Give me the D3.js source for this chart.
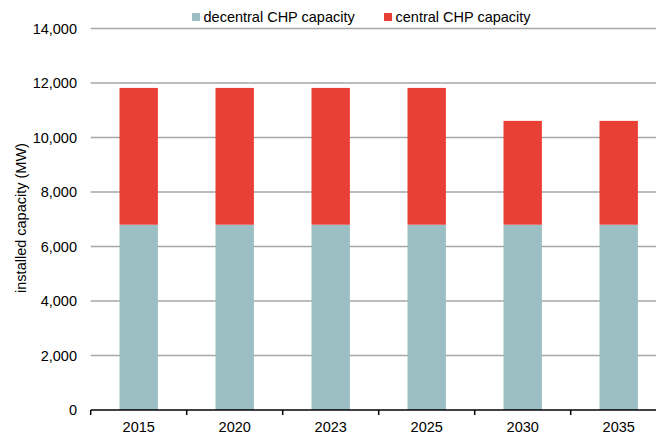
<!DOCTYPE html>
<html>
<head>
<meta charset="utf-8">
<script src="https://cdn.jsdelivr.net/npm/d3@7"></script>
<style>
  body { margin: 0; background: #fff; }
  text { font-family: "Liberation Sans", Arial, sans-serif; }
</style>
</head>
<body>
<div id="chart"></div>
<script>
// data
var years = ["2015", "2020", "2023", "2025", "2030", "2035"];
var decentral = [6800, 6800, 6800, 6800, 6800, 6800];
var central = [5020, 5020, 5020, 5020, 3810, 3810];
var seriesNames = ["decentral CHP capacity", "central CHP capacity"];
var seriesColors = ["#9bbfc2", "#e84035"];
var yTicks = [0, 2000, 4000, 6000, 8000, 10000, 12000, 14000];

var width = 656, height = 436;
var margin = {left: 90.7, right: -10.7, top: 28.5, bottom: 26};
var fontSize = 14.5;

var svg = d3.select("#chart").append("svg")
    .attr("width", width)
    .attr("height", height);

var x = d3.scaleBand()
    .domain(years)
    .range([margin.left, width - margin.right])
    .paddingInner(0.6)
    .paddingOuter(0.3);

var y = d3.scaleLinear()
    .domain([0, 14000])
    .range([height - margin.bottom, margin.top]);

// gridlines
svg.append("g")
    .selectAll("line")
    .data(yTicks.slice(1))
    .join("line")
    .attr("x1", margin.left)
    .attr("x2", width)
    .attr("y1", function (d) { return y(d); })
    .attr("y2", function (d) { return y(d); })
    .attr("stroke", "#a6a6a6")
    .attr("stroke-width", 1.5);

// y labels
svg.append("g")
    .selectAll("text")
    .data(yTicks)
    .join("text")
    .attr("x", 77)
    .attr("y", function (d) { return y(d); })
    .attr("dy", "0.35em")
    .attr("text-anchor", "end")
    .attr("font-size", fontSize)
    .attr("fill", "#000")
    .text(function (d) { return d3.format(",")(d); });

// stacked bars
var rows = years.map(function (yr, i) {
    return {year: yr, decentral: decentral[i], central: central[i]};
});
var stack = d3.stack().keys(["decentral", "central"])(rows);

svg.append("g")
    .selectAll("g")
    .data(stack)
    .join("g")
    .attr("fill", function (d, i) { return seriesColors[i]; })
    .selectAll("rect")
    .data(function (d) { return d; })
    .join("rect")
    .attr("x", function (d) { return x(d.data.year); })
    .attr("width", x.bandwidth())
    .attr("y", function (d) { return y(d[1]); })
    .attr("height", function (d) { return y(d[0]) - y(d[1]); });

// x axis
var xAxis = d3.axisBottom(x).tickSize(0).tickPadding(12);
var gx = svg.append("g")
    .attr("transform", "translate(0," + y(0) + ")")
    .call(xAxis);
gx.select(".domain").remove();
gx.selectAll("text")
    .attr("font-size", fontSize)
    .attr("fill", "#000")
    .style("font-family", "'Liberation Sans', Arial, sans-serif");

svg.append("line")
    .attr("x1", margin.left)
    .attr("x2", width)
    .attr("y1", y(0))
    .attr("y2", y(0))
    .attr("stroke", "#000")
    .attr("stroke-width", 1.5);

// tick marks between categories
var step = x.step();
var tickPos = d3.range(years.length + 1).map(function (i) { return margin.left + i * step; });
svg.append("g")
    .selectAll("line")
    .data(tickPos)
    .join("line")
    .attr("x1", function (d) { return d; })
    .attr("x2", function (d) { return d; })
    .attr("y1", y(0))
    .attr("y2", y(0) + 5)
    .attr("stroke", "#000")
    .attr("stroke-width", 1.5);

// y title
svg.append("text")
    .attr("transform", "translate(25.5,218) rotate(-90)")
    .attr("text-anchor", "middle")
    .attr("font-size", fontSize)
    .attr("fill", "#000")
    .text("installed capacity (MW)");

// legend
var legendX = [192, 384];
var legend = svg.append("g")
    .selectAll("g")
    .data(seriesNames)
    .join("g")
    .attr("transform", function (d, i) { return "translate(" + legendX[i] + ",13)"; });
legend.append("rect")
    .attr("width", 8)
    .attr("height", 8)
    .attr("fill", function (d, i) { return seriesColors[i]; });
legend.append("text")
    .attr("x", 11.5)
    .attr("y", 4)
    .attr("dy", "0.35em")
    .attr("font-size", fontSize)
    .attr("fill", "#000")
    .text(function (d) { return d; });
</script>
</body>
</html>
